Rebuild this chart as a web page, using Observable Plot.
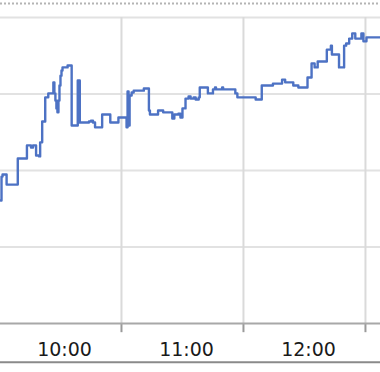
<!DOCTYPE html>
<html>
<head>
<meta charset="utf-8">
<script src="https://cdn.jsdelivr.net/npm/d3@7"></script>
<script src="https://cdn.jsdelivr.net/npm/@observablehq/plot@0.6"></script>
<style>
  html, body { margin: 0; padding: 0; background: #fff; }
  #chart svg { display: block; }
</style>
</head>
<body>
<div id="chart"></div>
<script>
// Sample times (step start) and values
const times = [
  "10:00:30","10:01:00","10:01:30","10:03:30","10:09:00","10:13:30","10:15:30","10:16:30",
  "10:18:00","10:19:30","10:20:00","10:21:00","10:22:30","10:24:00","10:26:30","10:27:00",
  "10:27:30","10:28:00","10:28:30","10:29:00","10:29:30","10:30:00","10:30:30","10:31:00",
  "10:33:30","10:35:30","10:38:30","10:39:30","10:44:00","10:45:00","10:46:00","10:47:00",
  "10:50:30","10:54:30","10:58:30","11:02:30","11:03:00","11:03:30","11:04:00","11:05:00",
  "11:06:00","11:11:00","11:13:30","11:14:00","11:18:00","11:20:30","11:25:00","11:26:00",
  "11:28:00","11:29:00","11:30:00","11:31:30","11:33:00","11:34:00","11:35:30","11:36:30",
  "11:38:00","11:38:30","11:42:30","11:45:00","11:46:00","11:46:30","11:49:30","11:50:00",
  "11:56:00","11:57:00","12:06:00","12:09:00","12:14:30","12:19:00","12:20:30","12:24:30",
  "12:27:00","12:31:30","12:33:30","12:35:00","12:36:30","12:41:00","12:43:00","12:43:30",
  "12:47:00","12:49:30","12:50:30","12:52:00","12:53:30","12:55:00","12:58:00","12:59:00",
  "13:00:30","13:07:30"
];
const values = [
  40.2, 48.0, 48.7, 45.4, 53.9, 58.2, 57.5, 58.2,
  54.9, 54.6, 59.2, 66.0, 73.9, 75.2, 78.8, 75.2,
  72.9, 70.3, 69.0, 72.9, 77.8, 81.0, 82.7, 83.7,
  84.3, 64.7, 79.4, 65.7, 66.0, 66.3, 65.7, 64.1,
  68.3, 65.7, 67.3, 64.1, 75.8, 64.7, 74.5, 75.5,
  76.1, 76.8, 69.6, 68.3, 69.6, 69.0, 67.0, 68.3,
  68.6, 67.3, 70.3, 73.5, 74.2, 73.5, 73.9, 73.2,
  73.9, 77.1, 75.2, 76.5, 77.1, 76.5, 77.1, 76.5,
  75.2, 73.9, 73.2, 77.8, 78.4, 79.7, 78.8, 77.8,
  77.1, 80.4, 85.0, 83.7, 85.6, 89.5, 90.8, 87.9,
  83.7, 90.8, 91.5, 93.1, 94.8, 93.1, 94.8, 92.2,
  93.5, 93.5
];
const hourTicks = ["11:00:00", "12:00:00", "13:00:00"];
const tickLabels = ["10:00", "11:00", "12:00"];
const labelHours = ["10:00:00", "11:00:00", "12:00:00"];
const yGrid = [25, 50, 75, 100];

const parse = d3.timeParse("%H:%M:%S");
const data = times.map((t, i) => ({time: parse(t), value: values[i]}));
const hours = hourTicks.map(parse);
const labels = tickLabels.map((l, i) => ({label: l, time: d3.timeMinute.offset(parse(labelHours[i]), 32)}));

const chart = Plot.plot({
  width: 380,
  height: 372,
  marginLeft: 0,
  marginRight: 0,
  marginTop: 17,
  marginBottom: 49,
  style: {background: "#fff", fontFamily: "DejaVu Sans, Verdana, sans-serif"},
  x: {type: "time", domain: [parse("10:00:30"), parse("13:07:24")], axis: null},
  y: {domain: [0, 100], axis: null},
  marks: [
    Plot.ruleY([104.6], {stroke: "#b4b4b4", strokeWidth: 2, strokeDasharray: "2,2"}),
    Plot.ruleY(yGrid, {stroke: "#e2e2e2", strokeWidth: 2}),
    Plot.ruleX(hours, {y1: 0, y2: 100, stroke: "#dadada", strokeWidth: 2}),
    Plot.ruleX(hours, {y1: 0, y2: -3, stroke: "#9a9a9a", strokeWidth: 2}),
    Plot.ruleY([0], {stroke: "#a8a8a8", strokeWidth: 2}),
    Plot.ruleY([-12.7], {stroke: "#8a8a8a", strokeWidth: 2}),
    Plot.line(data, {x: "time", y: "value", curve: "step-after", stroke: "#4d72c4", strokeWidth: 2.4}),
    Plot.text(labels, {x: "time", y: -10.7, text: "label", lineAnchor: "bottom", textAnchor: "middle", fontSize: 19, fill: "#1a1a1a"})
  ]
});
document.getElementById("chart").append(chart);
</script>
</body>
</html>
